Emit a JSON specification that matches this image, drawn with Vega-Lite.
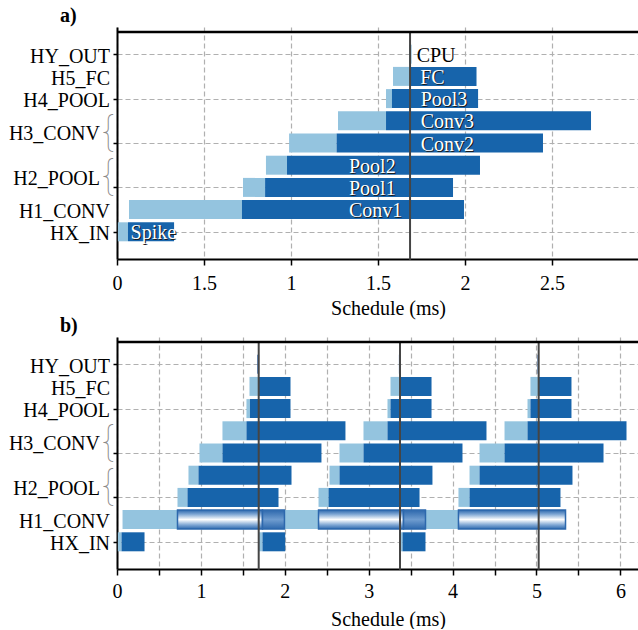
{
  "$schema": "https://vega.github.io/schema/vega-lite/v6.json",
  "padding": {"left": 8, "top": 6, "right": 0, "bottom": 0},
  "spacing": -2,
  "datasets": {
    "a": [
      {"row": 9, "kind": "wait", "start": 1.678, "end": 1.693},
      {"row": 8, "kind": "wait", "start": 1.586, "end": 1.684},
      {"row": 8, "kind": "run", "start": 1.684, "end": 2.066},
      {"row": 7, "kind": "wait", "start": 1.546, "end": 1.58},
      {"row": 7, "kind": "run", "start": 1.58, "end": 2.075},
      {"row": 6, "kind": "wait", "start": 1.27, "end": 1.546},
      {"row": 6, "kind": "run", "start": 1.546, "end": 2.724},
      {"row": 5, "kind": "wait", "start": 0.989, "end": 1.262},
      {"row": 5, "kind": "run", "start": 1.262, "end": 2.448},
      {"row": 4, "kind": "wait", "start": 0.856, "end": 0.977},
      {"row": 4, "kind": "run", "start": 0.977, "end": 2.086},
      {"row": 3, "kind": "wait", "start": 0.724, "end": 0.851},
      {"row": 3, "kind": "run", "start": 0.851, "end": 1.931},
      {"row": 2, "kind": "wait", "start": 0.069, "end": 0.718},
      {"row": 2, "kind": "run", "start": 0.718, "end": 1.994},
      {"row": 1, "kind": "wait", "start": 0.005, "end": 0.063},
      {"row": 1, "kind": "run", "start": 0.063, "end": 0.328}
    ],
    "aLabels": [
      {"label": "CPU", "row": 9, "lx": 1.722},
      {"label": "FC", "row": 8, "lx": 1.742},
      {"label": "Pool3", "row": 7, "lx": 1.745},
      {"label": "Conv3", "row": 6, "lx": 1.745},
      {"label": "Conv2", "row": 5, "lx": 1.745},
      {"label": "Pool2", "row": 4, "lx": 1.333},
      {"label": "Pool1", "row": 3, "lx": 1.333},
      {"label": "Conv1", "row": 2, "lx": 1.333},
      {"label": "Spike", "row": 1, "lx": 0.078}
    ],
    "b": [
      {"row": 9, "kind": "out", "start": 1.672, "end": 1.694},
      {"row": 9, "kind": "out", "start": 3.36, "end": 3.376},
      {"row": 9, "kind": "out", "start": 5.012, "end": 5.027},
      {"row": 8, "kind": "wait", "start": 1.579, "end": 1.683},
      {"row": 8, "kind": "run", "start": 1.683, "end": 2.068},
      {"row": 8, "kind": "wait", "start": 3.26, "end": 3.367},
      {"row": 8, "kind": "run", "start": 3.367, "end": 3.749},
      {"row": 8, "kind": "wait", "start": 4.928, "end": 5.02},
      {"row": 8, "kind": "run", "start": 5.02, "end": 5.417},
      {"row": 7, "kind": "wait", "start": 1.543, "end": 1.585},
      {"row": 7, "kind": "run", "start": 1.585, "end": 2.068},
      {"row": 7, "kind": "wait", "start": 3.224, "end": 3.26},
      {"row": 7, "kind": "run", "start": 3.26, "end": 3.749},
      {"row": 7, "kind": "wait", "start": 4.893, "end": 4.928},
      {"row": 7, "kind": "run", "start": 4.928, "end": 5.417},
      {"row": 6, "kind": "wait", "start": 1.257, "end": 1.543},
      {"row": 6, "kind": "run", "start": 1.543, "end": 2.723},
      {"row": 6, "kind": "wait", "start": 2.938, "end": 3.224},
      {"row": 6, "kind": "run", "start": 3.224, "end": 4.404},
      {"row": 6, "kind": "wait", "start": 4.619, "end": 4.893},
      {"row": 6, "kind": "run", "start": 4.893, "end": 6.073},
      {"row": 5, "kind": "wait", "start": 0.983, "end": 1.257},
      {"row": 5, "kind": "run", "start": 1.257, "end": 2.437},
      {"row": 5, "kind": "wait", "start": 2.652, "end": 2.938},
      {"row": 5, "kind": "run", "start": 2.938, "end": 4.118},
      {"row": 5, "kind": "wait", "start": 4.321, "end": 4.619},
      {"row": 5, "kind": "run", "start": 4.619, "end": 5.799},
      {"row": 4, "kind": "wait", "start": 0.852, "end": 0.971},
      {"row": 4, "kind": "run", "start": 0.971, "end": 2.08},
      {"row": 4, "kind": "wait", "start": 2.533, "end": 2.652},
      {"row": 4, "kind": "run", "start": 2.652, "end": 3.76},
      {"row": 4, "kind": "wait", "start": 4.202, "end": 4.321},
      {"row": 4, "kind": "run", "start": 4.321, "end": 5.429},
      {"row": 3, "kind": "wait", "start": 0.721, "end": 0.84},
      {"row": 3, "kind": "run", "start": 0.84, "end": 1.925},
      {"row": 3, "kind": "wait", "start": 2.402, "end": 2.521},
      {"row": 3, "kind": "run", "start": 2.521, "end": 3.606},
      {"row": 3, "kind": "wait", "start": 4.07, "end": 4.202},
      {"row": 3, "kind": "run", "start": 4.202, "end": 5.286},
      {"row": 2, "kind": "wait", "start": 0.066, "end": 0.721},
      {"row": 2, "kind": "hl", "start": 0.721, "end": 1.734},
      {"row": 2, "kind": "blk", "start": 1.734, "end": 1.996},
      {"row": 2, "kind": "wait", "start": 1.996, "end": 2.402},
      {"row": 2, "kind": "hl", "start": 2.402, "end": 3.415},
      {"row": 2, "kind": "blk", "start": 3.415, "end": 3.677},
      {"row": 2, "kind": "wait", "start": 3.677, "end": 4.07},
      {"row": 2, "kind": "hl", "start": 4.07, "end": 5.346},
      {"row": 1, "kind": "wait", "start": 0.01, "end": 0.054},
      {"row": 1, "kind": "run", "start": 0.054, "end": 0.328},
      {"row": 1, "kind": "wait", "start": 1.687, "end": 1.734},
      {"row": 1, "kind": "run", "start": 1.734, "end": 2.005},
      {"row": 1, "kind": "wait", "start": 3.37, "end": 3.403},
      {"row": 1, "kind": "run", "start": 3.403, "end": 3.677}
    ],
    "layers": [
      {"row": 9, "name": "HY_OUT"}, {"row": 8, "name": "H5_FC"}, {"row": 7, "name": "H4_POOL"},
      {"row": 2, "name": "H1_CONV"}, {"row": 1, "name": "HX_IN"}
    ],
    "groups": [{"row": 5.5, "name": "H3_CONV"}, {"row": 3.5, "name": "H2_POOL"}],
    "edge": [{"side": "top"}],
    "aNow": [{"t": 1.684}],
    "bNow": [{"t": 1.689}, {"t": 3.373}, {"t": 5.026}]
  },
  "vconcat": [
    {
      "title": {"text": "a)"},
      "width": 521,
      "height": 232,
      "layer": [
        {
          "data": {"name": "a"},
          "mark": {"type": "bar"},
          "encoding": {
            "x": {"field": "start", "type": "quantitative",
              "scale": {"domain": [0, 2.994], "nice": false, "zero": false},
              "axis": {"values": [0, 0.5, 1, 1.5, 2, 2.5], "format": "~g", "labelExpr": "datum.value==0.5?'1.5':datum.label", "title": "Schedule (ms)", "tickSize": 6, "labelPadding": 8, "titleX": 271, "titlePadding": 5, "labelOverlap": false, "labelFlush": false}},
            "x2": {"field": "end"},
            "y": {"field": "row", "type": "quantitative",
              "scale": {"domain": [0, 10], "nice": false, "zero": false},
              "axis": {"values": [1, 2, 3, 4, 5, 6, 7, 8, 9], "labels": false, "title": null, "tickSize": 4}},
            "color": {"field": "kind", "type": "nominal", "scale": {"domain": ["wait", "run", "out"], "range": ["#94c4df", "#1764ab", "#3a70b8"]}, "legend": null},
            "size": {"value": 19}
          }
        },
        {
          "data": {"name": "aNow"},
          "mark": {"type": "rule", "color": "#454545", "strokeWidth": 2, "clip": false},
          "encoding": {"x": {"field": "t", "type": "quantitative"}, "y": {"datum": 10}, "y2": {"datum": -0.26}}
        },
        {
          "data": {"name": "edge"},
          "mark": {"type": "rule", "color": "black", "strokeWidth": 2.5},
          "encoding": {"y": {"datum": 10}}
        },
        {
          "data": {"name": "layers"},
          "mark": {"type": "text", "fontSize": 20, "color": "black", "align": "right", "baseline": "middle", "dx": -7, "dy": 2.5, "clip": false},
          "encoding": {"x": {"datum": 0}, "y": {"field": "row", "type": "quantitative"}, "text": {"field": "name"}}
        },
        {
          "data": {"name": "groups"},
          "mark": {"type": "text", "text": "{", "fontSize": 41, "font": "Inter", "fontWeight": 100, "color": "#8a8a8a", "align": "center", "baseline": "middle", "dx": -9, "dy": 2, "clip": false},
          "encoding": {"x": {"datum": 0}, "y": {"field": "row", "type": "quantitative"}}
        },
        {
          "data": {"name": "groups"},
          "mark": {"type": "text", "fontSize": 20, "color": "black", "align": "right", "baseline": "middle", "dx": -17, "dy": 2.5, "clip": false},
          "encoding": {"x": {"datum": 0}, "y": {"field": "row", "type": "quantitative"}, "text": {"field": "name"}}
        },
        {
          "data": {"name": "aLabels"},
          "transform": [{"filter": "datum.label != 'CPU'"}],
          "mark": {"type": "text", "align": "left", "baseline": "middle", "fontSize": 20, "dx": 1, "dy": 2.5, "color": "#1a1a1a"},
          "encoding": {"x": {"field": "lx", "type": "quantitative"}, "y": {"field": "row", "type": "quantitative"}, "text": {"field": "label"}}
        },
        {
          "data": {"name": "aLabels"},
          "mark": {"type": "text", "align": "left", "baseline": "middle", "fontSize": 20, "dy": 1.5},
          "encoding": {"x": {"field": "lx", "type": "quantitative"}, "y": {"field": "row", "type": "quantitative"}, "text": {"field": "label"},
            "color": {"condition": {"test": "datum.label=='CPU'", "value": "black"}, "value": "white"}}
        }
      ]
    },
    {
      "title": {"text": "b)"},
      "width": 521,
      "height": 232,
      "layer": [
        {
          "data": {"name": "b"},
          "transform": [{"filter": "datum.kind=='wait'||datum.kind=='run'||datum.kind=='out'"}],
          "mark": {"type": "bar"},
          "encoding": {
            "x": {"field": "start", "type": "quantitative",
              "scale": {"domain": [0, 6.21], "nice": false, "zero": false},
              "axis": {"values": [0, 0.5, 1, 1.5, 2, 2.5, 3, 3.5, 4, 4.5, 5, 5.5, 6], "format": "~g", "labelExpr": "datum.value%1==0?datum.label:''", "title": "Schedule (ms)", "tickSize": 6, "labelPadding": 6, "titleX": 271, "titlePadding": 8, "labelOverlap": false, "labelFlush": false}},
            "x2": {"field": "end"},
            "y": {"field": "row", "type": "quantitative",
              "scale": {"domain": [0, 10], "nice": false, "zero": false},
              "axis": {"values": [1, 2, 3, 4, 5, 6, 7, 8, 9], "labels": false, "title": null, "tickSize": 4}},
            "color": {"field": "kind", "type": "nominal", "scale": {"domain": ["wait", "run", "out"], "range": ["#94c4df", "#1764ab", "#3a70b8"]}, "legend": null},
            "size": {"value": 19}
          }
        },
        {
          "data": {"name": "b"},
          "transform": [{"filter": "datum.kind=='hl'"}],
          "mark": {"type": "bar", "stroke": "#2d68ad", "strokeWidth": 1.5,
            "fill": {"gradient": "linear", "x1": 0, "y1": 0, "x2": 0, "y2": 1, "stops": [
              {"offset": 0, "color": "#2d68ad"}, {"offset": 0.22, "color": "#7fa7d4"}, {"offset": 0.5, "color": "#ffffff"}, {"offset": 0.78, "color": "#7fa7d4"}, {"offset": 1, "color": "#2d68ad"}]}},
          "encoding": {"x": {"field": "start", "type": "quantitative"}, "x2": {"field": "end"}, "y": {"field": "row", "type": "quantitative"}, "size": {"value": 19}}
        },
        {
          "data": {"name": "b"},
          "transform": [{"filter": "datum.kind=='blk'"}],
          "mark": {"type": "bar", "stroke": "#2d68ad", "strokeWidth": 1.5,
            "fill": {"gradient": "linear", "x1": 0, "y1": 0, "x2": 0, "y2": 1, "stops": [
              {"offset": 0, "color": "#2d68ad"}, {"offset": 0.5, "color": "#6f9ccf"}, {"offset": 1, "color": "#2d68ad"}]}},
          "encoding": {"x": {"field": "start", "type": "quantitative"}, "x2": {"field": "end"}, "y": {"field": "row", "type": "quantitative"}, "size": {"value": 19}}
        },
        {
          "data": {"name": "bNow"},
          "mark": {"type": "rule", "color": "#454545", "strokeWidth": 2, "clip": false},
          "encoding": {"x": {"field": "t", "type": "quantitative"}, "y": {"datum": 10}, "y2": {"datum": -0.26}}
        },
        {
          "data": {"name": "edge"},
          "mark": {"type": "rule", "color": "black", "strokeWidth": 2.5},
          "encoding": {"y": {"datum": 10}}
        },
        {
          "data": {"name": "layers"},
          "mark": {"type": "text", "fontSize": 20, "color": "black", "align": "right", "baseline": "middle", "dx": -7, "dy": 2.5, "clip": false},
          "encoding": {"x": {"datum": 0}, "y": {"field": "row", "type": "quantitative"}, "text": {"field": "name"}}
        },
        {
          "data": {"name": "groups"},
          "mark": {"type": "text", "text": "{", "fontSize": 41, "font": "Inter", "fontWeight": 100, "color": "#8a8a8a", "align": "center", "baseline": "middle", "dx": -9, "dy": 2, "clip": false},
          "encoding": {"x": {"datum": 0}, "y": {"field": "row", "type": "quantitative"}}
        },
        {
          "data": {"name": "groups"},
          "mark": {"type": "text", "fontSize": 20, "color": "black", "align": "right", "baseline": "middle", "dx": -17, "dy": 2.5, "clip": false},
          "encoding": {"x": {"datum": 0}, "y": {"field": "row", "type": "quantitative"}, "text": {"field": "name"}}
        }
      ]
    }
  ],
  "config": {
    "font": "'Liberation Serif'",
    "view": {"stroke": null},
    "title": {"font": "'Liberation Serif'", "fontSize": 20, "fontWeight": "bold", "color": "black", "anchor": "start", "frame": "group", "dx": -57, "offset": 1},
    "text": {"font": "'Liberation Serif'"},
    "axis": {
      "domainColor": "black", "domainWidth": 2, "tickColor": "black", "tickWidth": 1.5,
      "labelFont": "'Liberation Serif'", "labelFontSize": 20, "labelColor": "black",
      "titleFont": "'Liberation Serif'", "titleFontSize": 20, "titleFontWeight": "normal", "titleColor": "black",
      "gridColor": "#b0b0b0", "gridDash": [5, 3], "gridWidth": 1.2, "grid": true,
      "zindex": 1
    }
  }
}
